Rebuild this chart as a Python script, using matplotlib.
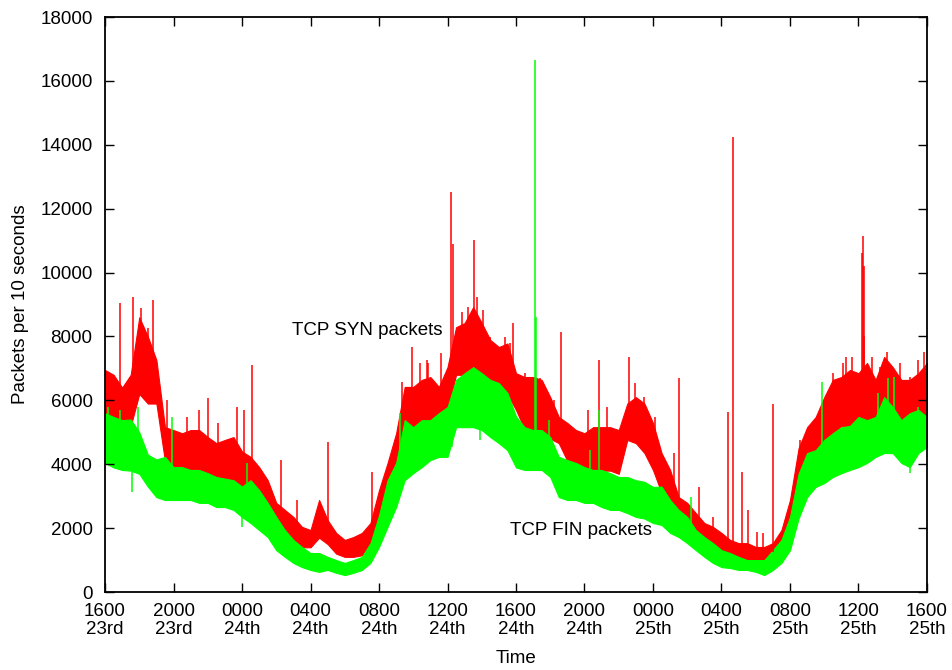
import numpy as np
import matplotlib
matplotlib.use("Agg")
import matplotlib.pyplot as plt

plt.rcParams['font.family'] = ['Liberation Sans', 'DejaVu Sans']

# hours since 1600 on the 23rd, half-hour samples
hours = np.arange(0, 48.5, 0.5)

# TCP SYN band (upper / lower envelope of the noisy trace)
syn_hi = [6950, 6800, 6400, 6800, 8600, 8000, 7260, 5160, 5070, 4970,
          5070, 5070, 4850, 4660, 4760, 4850, 4400, 4230, 3910, 3500,
          2790, 2570, 2350, 2040, 1940, 2880, 2250, 1850, 1630, 1720,
          1850, 2160, 3190, 4040, 4970, 6420, 6420, 6640, 6730, 6420,
          7040, 8290, 8420, 8920, 8420, 7890, 7670, 7780, 6850, 6730,
          6730, 6640, 6100, 5480, 5290, 5070, 4970, 5160, 5160, 5160,
          5070, 5900, 6100, 5900, 5290, 4350, 3820, 2970, 2790, 2470,
          2160, 2040, 1850, 1630, 1530, 1530, 1410, 1410, 1530, 1940,
          2880, 4500, 5160, 5480, 6100, 6640, 6730, 6950, 6850, 7170,
          6640, 7360, 7040, 6640, 6640, 6850, 7170]
syn_lo = [5400, 5300, 5200, 5200, 6200, 5900, 5900, 4100, 3900, 3900,
          3800, 3800, 3700, 3600, 3500, 3500, 3300, 3300, 3100, 2700,
          2300, 1900, 1600, 1400, 1400, 1700, 1500, 1200, 1100, 1100,
          1150, 1500, 2300, 3400, 4000, 5300, 5100, 5300, 5300, 5500,
          5700, 6800, 6800, 6900, 6800, 6600, 6500, 6200, 5700, 5100,
          5000, 5000, 4800, 4660, 4100, 4000, 3900, 3800, 3800, 3800,
          3700, 4760, 4660, 4350, 3820, 3100, 2880, 2500, 2300, 1900,
          1700, 1500, 1300, 1200, 1100, 1000, 1000, 1000, 1300, 1600,
          2300, 3400, 4300, 4400, 4700, 4900, 5200, 5100, 5400, 5300,
          5400, 6000, 5700, 5300, 5500, 5600, 5400]

# TCP FIN band
fin_hi = [5600, 5480, 5380, 5400, 5000, 4300, 4150, 4230, 3910, 3910,
          3820, 3820, 3720, 3600, 3550, 3500, 3300, 3500, 3190, 2790,
          2350, 1940, 1630, 1410, 1220, 1220, 1100, 1000, 910, 1000,
          1100, 1530, 2400, 3500, 4040, 5380, 5160, 5380, 5380, 5600,
          5790, 6640, 6850, 7040, 6850, 6640, 6540, 6230, 5500, 5160,
          5070, 5070, 4850, 4230, 4130, 4040, 3910, 3820, 3820, 3720,
          3600, 3600, 3500, 3450, 3290, 3300, 2880, 2570, 2350, 1940,
          1720, 1530, 1310, 1220, 1100, 1000, 1000, 1000, 1310, 1630,
          2350, 3700, 4350, 4440, 4760, 4970, 5160, 5200, 5480, 5380,
          5480, 6100, 5790, 5380, 5600, 5700, 5480]
fin_lo = [4040, 3900, 3820, 3800, 3700, 3300, 2970, 2880, 2880, 2880,
          2880, 2790, 2790, 2660, 2660, 2570, 2350, 2160, 1940, 1720,
          1310, 1100, 910, 780, 690, 630, 690, 600, 530, 600,
          690, 910, 1410, 2040, 2660, 3500, 3720, 3910, 4130, 4230,
          4230, 5160, 5160, 5160, 5070, 4850, 4660, 4440, 3900, 3820,
          3820, 3820, 3600, 2970, 2880, 2880, 2790, 2790, 2660, 2570,
          2570, 2470, 2350, 2300, 2160, 2100, 1850, 1720, 1530, 1310,
          1100, 910, 780, 750, 690, 690, 630, 530, 690, 910,
          1310, 2300, 2970, 3290, 3410, 3600, 3720, 3820, 3910, 4040,
          4230, 4350, 4350, 4040, 3910, 4350, 4540]

# isolated spikes
syn_spike_t = [0.88, 1.62, 2.1, 2.5, 2.8, 3.6, 4.77, 5.5, 6.0, 6.6, 7.7,
               8.1, 8.6, 10.26, 11.2, 13.04, 15.57, 17.33, 17.9, 18.4,
               18.8, 18.87, 19.62, 20.19, 20.3, 20.83, 21.2, 21.54, 21.7,
               22.07, 22.48, 23.36, 23.65, 23.8, 24.5, 25.4, 26.2, 26.6,
               28.2, 28.87, 29.3, 30.6, 30.95, 31.5, 32.1, 33.2, 33.5,
               34.67, 35.5, 36.4, 36.7, 37.2, 37.55, 38.05, 38.4, 39.03,
               40.6, 40.77, 42.5, 43.1, 43.3, 43.6, 44.2, 44.25, 44.3,
               44.35, 44.77, 45.26, 45.65, 46.4, 47.0, 47.5, 47.8]
syn_spike_v = [9050, 9230, 8890, 8260, 9140, 6000, 5480, 5700, 6070, 5290,
               5790, 5700, 7100, 4130, 2880, 4700, 3760, 6580, 7670, 7170,
               7260, 7170, 7480, 12520, 10900, 8770, 8920, 11020, 9240,
               8830, 7980, 7980, 7780, 8420, 6850, 6700, 6010, 8140,
               5700, 7260, 5800, 7360, 6540, 6100, 5480, 4350, 6700,
               3290, 2350, 5640, 14250, 3770, 2570, 1880, 1840, 5880,
               4760, 4440, 6850, 7170, 7360, 7360, 10600, 11140, 10200,
               8000, 7360, 7040, 7510, 7170, 6730, 7270, 7510]
fin_spike_t = [0.2, 0.88, 1.9, 3.9, 8.27, 17.2, 25.1, 25.15, 25.9, 28.3,
               28.85, 34.2, 41.87, 45.15, 45.7, 46.1, 47.5]
fin_spike_v = [5800, 5700, 5800, 5480, 4040, 5600, 16650, 8600, 5380, 4440,
               5700, 2970, 6570, 6230, 6700, 6730, 5790]
fin_dip_t = [1.56, 7.98, 20.24, 21.9, 47.0]
fin_dip_v = [3130, 2040, 4540, 4760, 3720]

tick_hours = list(range(0, 49, 4))
tick_labels = ["1600\n23rd", "2000\n23rd", "0000\n24th", "0400\n24th",
               "0800\n24th", "1200\n24th", "1600\n24th", "2000\n24th",
               "0000\n25th", "0400\n25th", "0800\n25th", "1200\n25th",
               "1600\n25th"]

red = '#ff0000'
green = '#00ff00'

fig = plt.figure(figsize=(9.53, 6.70), dpi=100)
ax = fig.add_axes([0.1102, 0.1164, 0.8625, 0.8582])

ax.fill_between(hours, syn_lo, syn_hi, color=red, lw=0.8)
ax.vlines(syn_spike_t, np.interp(syn_spike_t, hours, syn_hi) - 300,
          syn_spike_v, color=red, lw=1.1)
ax.fill_between(hours, fin_lo, fin_hi, color=green, lw=0.8)
ax.vlines(fin_spike_t, np.interp(fin_spike_t, hours, fin_hi) - 300,
          fin_spike_v, color=green, lw=1.1)
ax.vlines(fin_dip_t, fin_dip_v, np.interp(fin_dip_t, hours, fin_lo) + 300,
          color=green, lw=1.1)

ax.text(15.3, 8200, "TCP SYN packets", ha='center', va='center', fontsize=13.5)
ax.text(27.8, 1940, "TCP FIN packets", ha='center', va='center', fontsize=13.5)

ax.set_xlim(0, 48)
ax.set_ylim(0, 18000)
ax.set_xticks(tick_hours)
ax.set_xticklabels(tick_labels, linespacing=1.1)
ax.set_yticks(range(0, 18001, 2000))
ax.tick_params(direction='in', length=6.5, width=1, top=True, right=True,
               labelsize=13.5)
ax.tick_params(axis='x', pad=8)
ax.tick_params(axis='y', pad=9)
for s in ax.spines.values():
    s.set_linewidth(1.3)

ax.set_xlabel("Time", fontsize=13.5, labelpad=8)
ax.set_ylabel("Packets per 10 seconds", fontsize=13.5, labelpad=8)

fig.savefig("out.png", dpi=100)
